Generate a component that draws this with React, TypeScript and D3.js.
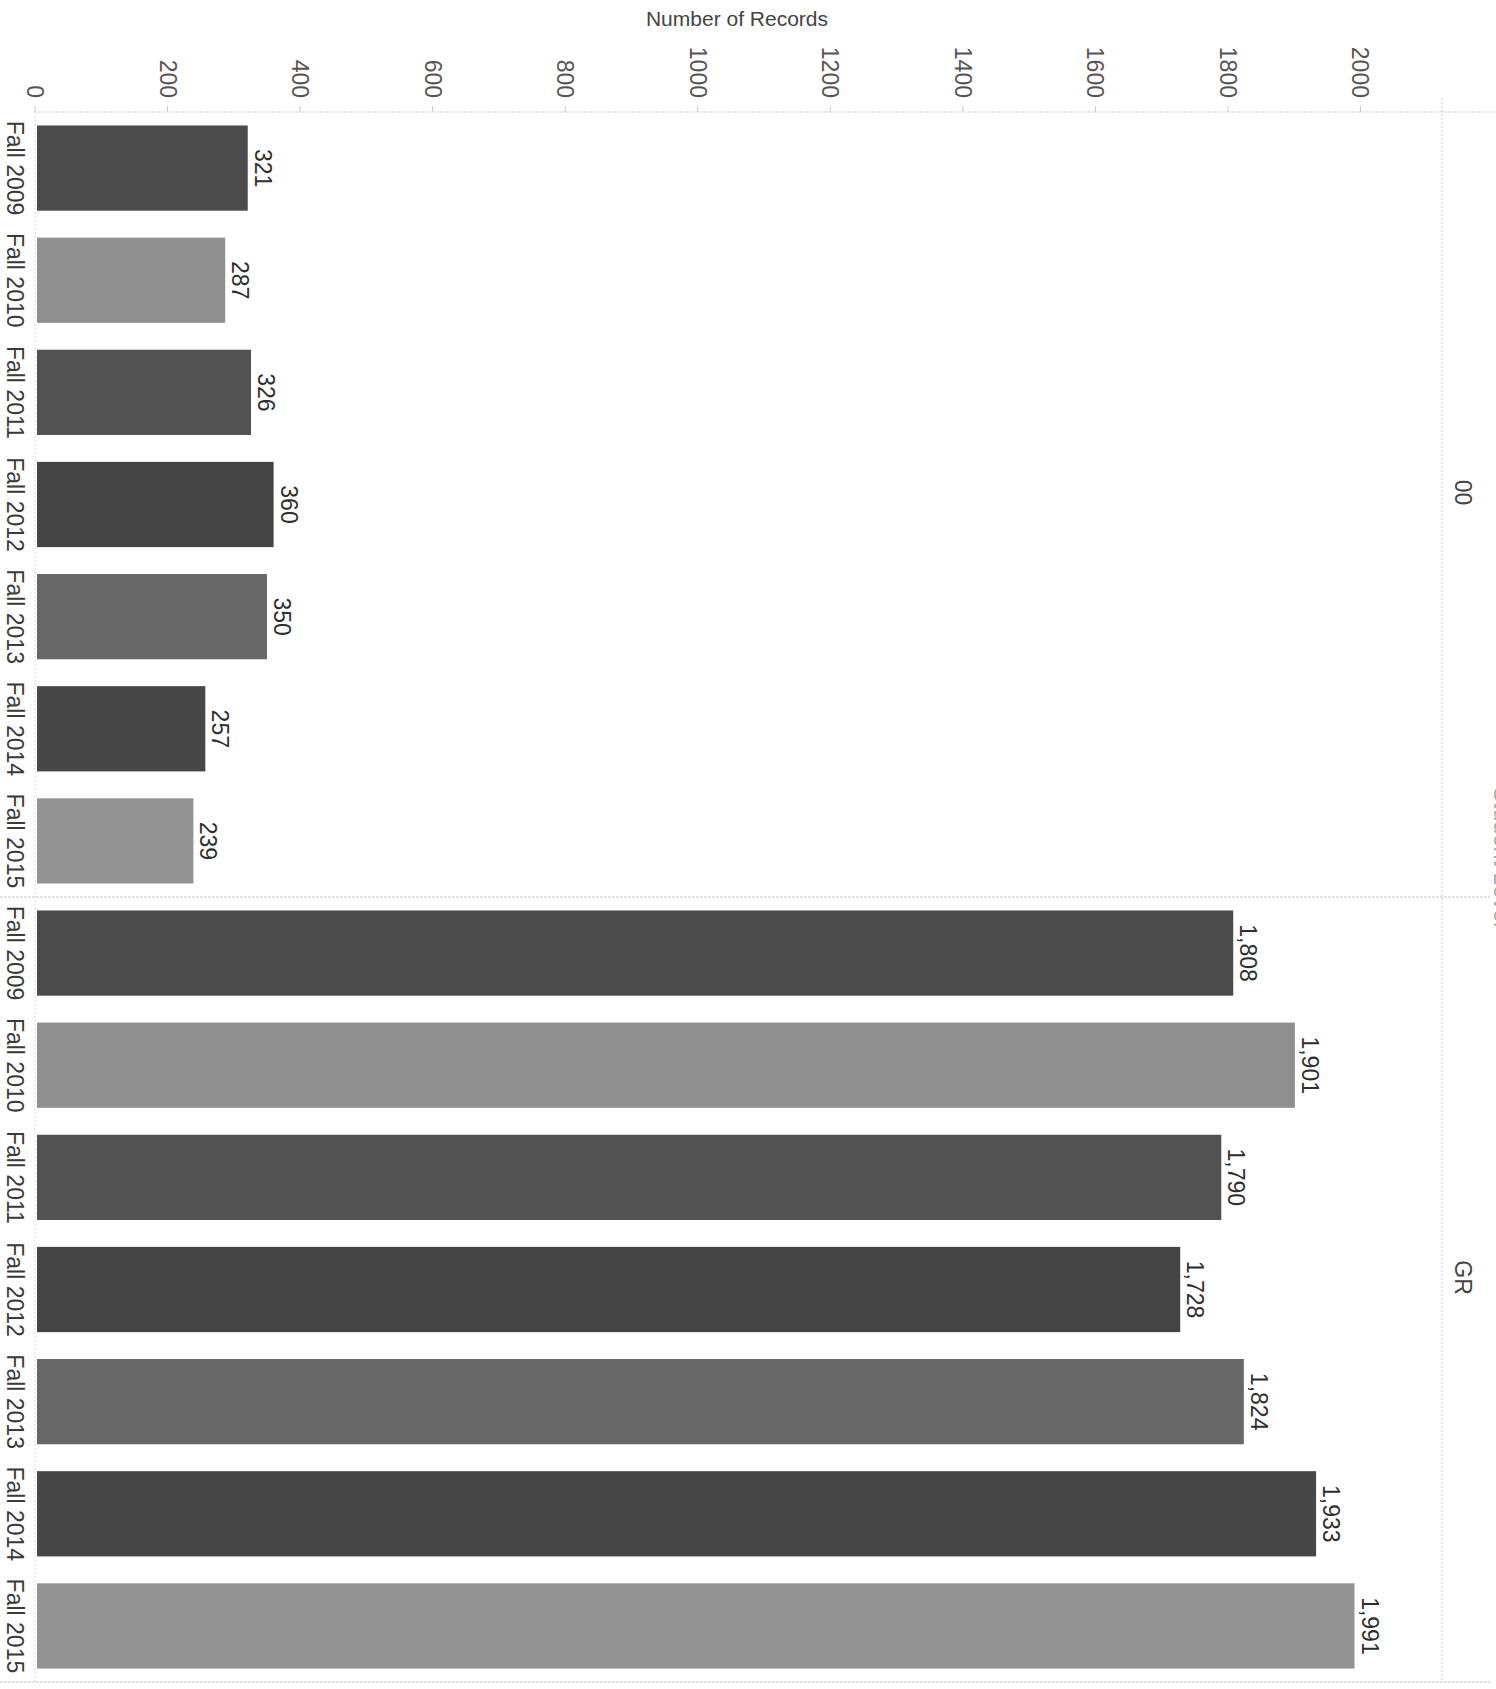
import React from "react";
import * as d3 from "d3";

const panels = ["00", "GR"];
const terms = ["Fall 2009", "Fall 2010", "Fall 2011", "Fall 2012", "Fall 2013", "Fall 2014", "Fall 2015"];
const values00 = [321, 287, 326, 360, 350, 257, 239];
const valuesGR = [1808, 1901, 1790, 1728, 1824, 1933, 1991];
const termColors = ["#4b4b4b", "#8f8f8f", "#525252", "#444444", "#676767", "#474747", "#939393"];
const tickValues = [0, 200, 400, 600, 800, 1000, 1200, 1400, 1600, 1800, 2000];
const axisTitle = "Number of Records";
const headerTitle = "Student Level";

const W = 1496;
const H = 1689;
const FONT = "'Liberation Sans', Arial, sans-serif";

export default function App() {
  const rows = [
    ...terms.map((t, i) => ({ panel: panels[0], term: t, value: values00[i], ti: i })),
    ...terms.map((t, i) => ({ panel: panels[1], term: t, value: valuesGR[i], ti: i })),
  ];
  const key = (r: any) => r.panel + "|" + r.term;

  const plotLeft = 35;
  const plotRight = 1442;
  const plotTop = 112;
  const plotBottom = 1682;

  const x = d3.scaleLinear().domain([0, 2120]).range([plotLeft, plotRight - 2]);
  const y = d3
    .scaleBand<string>()
    .domain(rows.map(key))
    .range([plotTop, plotBottom])
    .paddingInner(0.24)
    .paddingOuter(0.12);

  const step = y.step();
  const panelStart = (p: string) => (y(p + "|" + terms[0]) as number) - step * 0.12;
  const panelEnd = (p: string) => (y(p + "|" + terms[terms.length - 1]) as number) + y.bandwidth() + step * 0.12;
  const divider = panelEnd(panels[0]);
  const fmt = d3.format(",");

  return (
    <svg
      width={W}
      height={H}
      viewBox={`0 0 ${W} ${H}`}
      style={{ position: "absolute", left: 0, top: 0, background: "#fff" }}
      fontFamily={FONT}
    >
      <rect x={0} y={0} width={W} height={H} fill="#ffffff" />

      {/* axis title */}
      <text x={737} y={26} textAnchor="middle" fontSize={21} fill="#444">
        {axisTitle}
      </text>

      {/* tick labels and marks */}
      {tickValues.map((t) => (
        <g key={t}>
          <text
            transform={`translate(${x(t) - 8},${98}) rotate(90)`}
            textAnchor="end"
            fontSize={23}
            fill="#555"
          >
            {t}
          </text>
          <line x1={x(t)} x2={x(t)} y1={plotTop - 6} y2={plotTop} stroke="#c8c8c8" strokeWidth={1} />
        </g>
      ))}

      {/* grid / frame lines */}
      <line x1={plotLeft} x2={W} y1={plotTop} y2={plotTop} stroke="#cfcfcf" strokeWidth={1} strokeDasharray="2,1" />
      <line x1={plotLeft} x2={plotLeft} y1={plotTop} y2={plotBottom} stroke="#dadada" strokeWidth={1} strokeDasharray="2,2" />
      <line x1={plotRight} x2={plotRight} y1={plotTop - 14} y2={plotBottom} stroke="#cfcfcf" strokeWidth={1} strokeDasharray="2,2" />
      <line x1={0} x2={1490} y1={divider} y2={divider} stroke="#c4c4c4" strokeWidth={1} strokeDasharray="3,1" />
      <line x1={0} x2={1490} y1={plotBottom} y2={plotBottom} stroke="#c4c4c4" strokeWidth={1} strokeDasharray="3,1" />

      {/* bars */}
      {rows.map((r) => {
        const by = y(key(r)) as number;
        const bh = y.bandwidth();
        const cy = by + bh / 2;
        return (
          <g key={key(r)}>
            <rect x={x(0) + 2} y={by} width={x(r.value) - x(0) - 2} height={bh} fill={termColors[r.ti]} />
            <text
              transform={`translate(${x(r.value) + 7},${cy}) rotate(90)`}
              textAnchor="middle"
              fontSize={23}
              fill="#2e2e2e"
            >
              {fmt(r.value)}
            </text>
            <text
              transform={`translate(7,${cy}) rotate(90)`}
              textAnchor="middle"
              fontSize={23}
              fill="#3a3a3a"
            >
              {r.term}
            </text>
          </g>
        );
      })}

      {/* row headers */}
      {panels.map((p) => (
        <text
          key={p}
          transform={`translate(1455,${(panelStart(p) + panelEnd(p)) / 2 - 12}) rotate(90)`}
          textAnchor="middle"
          fontSize={23}
          fill="#444"
        >
          {p}
        </text>
      ))}

      {/* clipped row-dimension header at right edge */}
      <text
        transform={`translate(1494,${(plotTop + plotBottom) / 2 - 40}) rotate(90)`}
        textAnchor="middle"
        fontSize={23}
        fill="#aaa"
      >
        {headerTitle}
      </text>
    </svg>
  );
}
